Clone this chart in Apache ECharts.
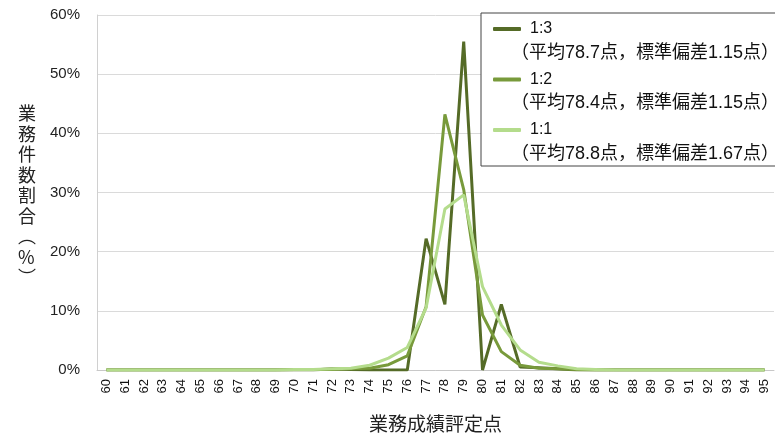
<!DOCTYPE html>
<html>
<head>
<meta charset="utf-8">
<script src="https://cdn.jsdelivr.net/npm/echarts@6/dist/echarts.min.js"></script>
<style>
html,body{margin:0;padding:0;background:#fff;}
#root{width:775px;height:435px;}
</style>
</head>
<body>
<div id="root"></div>
<script>
let root = document.getElementById('root');
let myCharts = echarts.init(root);

// 業務成績評定点 60..95
let categories = [];
for (let s = 60; s <= 95; s++) categories.push(String(s));

let seriesNames = ['1:3', '1:2', '1:1'];
let stats = [
    '（平均78.7点，標準偏差1.15点）',
    '（平均78.4点，標準偏差1.15点）',
    '（平均78.8点，標準偏差1.67点）'
];
// %  (60,61,...,95)
let ratio13 = [0,0,0,0,0,0,0,0,0,0, 0,0,0.2,0.1,0,0,0,22.2,11.1,55.5, 0,11.1,0.5,0.4,0.2,0,0,0,0,0, 0,0,0,0,0,0];
let ratio12 = [0,0,0,0,0,0,0,0,0,0, 0.1,0.1,0.1,0.2,0.3,0.9,2.4,10.7,43.2,30.5, 9.3,3.1,0.8,0.3,0.2,0.1,0,0,0,0, 0,0,0,0,0,0];
let ratio11 = [0,0,0,0,0,0,0,0,0,0, 0.1,0.1,0.2,0.3,0.8,2.0,3.8,10.5,27.2,29.6, 14.1,7.6,3.4,1.3,0.7,0.2,0.1,0,0,0, 0,0,0,0,0,0];
let yTicks = [0, 10, 20, 30, 40, 50, 60];

let colors = ['#556b27', '#789a3b', '#b4dc8c'];
let font = 'Liberation Sans, Noto Sans CJK JP, sans-serif';

let legendTop = 13;
let itemStep = 50.5;

let option = {
    color: colors,
    animation: false,
    grid: {left: 97, right: 1, top: 15, bottom: 65, containLabel: false, outerBoundsMode: 'none'},
    legend: {
        left: 481,
        top: legendTop,
        orient: 'vertical',
        data: seriesNames,
        icon: 'roundRect',
        itemWidth: 28,
        itemHeight: 4,
        itemGap: itemStep - 20,
        padding: [6, 260, 26, 12],
        borderColor: '#444',
        borderWidth: 1,
        backgroundColor: '#fff',
        textStyle: {fontSize: 16, color: '#111', fontFamily: font, lineHeight: 20, height: 20, padding: [0, 0, 0, 4]}
    },
    graphic: stats.map(function (t, i) {
        return {
            type: 'text',
            left: 511,
            top: legendTop + 31 + i * itemStep,
            z: 100,
            style: {text: t, fontSize: 18, fill: '#111', fontFamily: font}
        };
    }).concat([{
        type: 'text',
        left: 18,
        top: 103,
        style: {
            text: '業\n務\n件\n数\n割\n合\n︵\n%\n︶',
            fontSize: 18,
            lineHeight: 20.5,
            fill: '#222',
            align: 'center',
            fontFamily: 'Noto Sans CJK JP'
        }
    }]),
    xAxis: {
        type: 'category',
        data: categories,
        boundaryGap: true,
        name: '業務成績評定点',
        nameLocation: 'middle',
        nameGap: 44,
        nameTextStyle: {fontSize: 19, color: '#222', fontFamily: 'Noto Sans CJK JP'},
        axisLine: {lineStyle: {color: '#c8c8c8', width: 1}},
        axisTick: {show: false},
        axisLabel: {rotate: 90, fontSize: 13, color: '#111', interval: 0, margin: 9, fontFamily: font}
    },
    yAxis: {
        type: 'value',
        min: yTicks[0],
        max: yTicks[yTicks.length - 1],
        interval: 10,
        axisLine: {show: true, lineStyle: {color: '#d0d0d0'}},
        axisTick: {show: false},
        splitLine: {lineStyle: {color: '#dadada'}},
        axisLabel: {formatter: '{value}%', fontSize: 15, color: '#222', margin: 17, fontFamily: font}
    },
    series: [
        {name: seriesNames[0], type: 'line', data: ratio13, symbol: 'none', lineStyle: {width: 3}},
        {name: seriesNames[1], type: 'line', data: ratio12, symbol: 'none', lineStyle: {width: 3}},
        {name: seriesNames[2], type: 'line', data: ratio11, symbol: 'none', lineStyle: {width: 3}}
    ]
};
myCharts.setOption(option);
</script>
</body>
</html>
